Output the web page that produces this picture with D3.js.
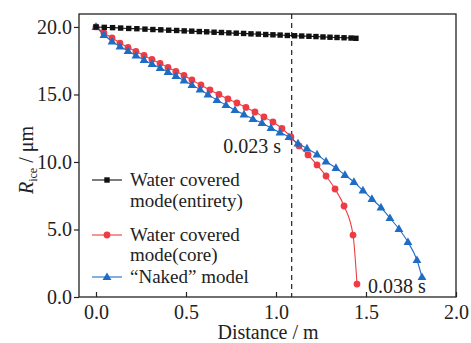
<!DOCTYPE html>
<html>
<head>
<meta charset="utf-8">
<script src="https://cdn.jsdelivr.net/npm/d3@7"></script>
<style>
html,body{margin:0;padding:0;background:#fff;}
svg{display:block;}
text{font-family:"Liberation Serif","DejaVu Serif",serif;fill:#222;}
</style>
</head>
<body>
<svg id="chart" width="471" height="343"></svg>
<script>
// ---- data ----
const xTicks = [0.0, 0.5, 1.0, 1.5, 2.0];
const yTicks = [0.0, 5.0, 10.0, 15.0, 20.0];

const distEntirety = [0, 0.046, 0.092, 0.137, 0.182, 0.227, 0.272, 0.316, 0.36, 0.404, 0.448, 0.49, 0.532, 0.574, 0.615, 0.656, 0.697, 0.738, 0.779, 0.82, 0.861, 0.902, 0.943, 0.983, 1.023, 1.063, 1.103, 1.143, 1.183, 1.222, 1.261, 1.3, 1.339, 1.378, 1.417, 1.444];
const rEntirety = [20.00, 19.97, 19.95, 19.92, 19.89, 19.87, 19.84, 19.81, 19.79, 19.76, 19.74, 19.71, 19.69, 19.66, 19.64, 19.61, 19.59, 19.56, 19.54, 19.52, 19.49, 19.47, 19.44, 19.42, 19.40, 19.37, 19.35, 19.33, 19.31, 19.29, 19.26, 19.24, 19.22, 19.20, 19.18, 19.16];

const distCore = [0.000, 0.044, 0.089, 0.133, 0.178, 0.222, 0.267, 0.311, 0.356, 0.400, 0.444, 0.489, 0.533, 0.583, 0.633, 0.683, 0.733, 0.783, 0.833, 0.883, 0.933, 0.983, 1.033, 1.083, 1.128, 1.178, 1.228, 1.278, 1.328, 1.378, 1.428, 1.450];
const rCore = [20.00, 19.56, 19.19, 18.81, 18.48, 18.19, 17.89, 17.59, 17.30, 17.00, 16.70, 16.41, 16.07, 15.70, 15.33, 15.00, 14.67, 14.37, 14.04, 13.70, 13.33, 12.96, 12.48, 11.85, 11.19, 10.52, 9.78, 8.96, 8.00, 6.74, 4.59, 0.96];

const distNaked = [0, 0.044, 0.089, 0.133, 0.178, 0.222, 0.267, 0.311, 0.356, 0.400, 0.444, 0.489, 0.533, 0.578, 0.622, 0.672, 0.722, 0.772, 0.822, 0.872, 0.922, 0.972, 1.022, 1.072, 1.122, 1.172, 1.228, 1.278, 1.333, 1.383, 1.433, 1.483, 1.533, 1.583, 1.633, 1.683, 1.733, 1.783, 1.811];
const rNaked = [20.00, 19.41, 18.93, 18.56, 18.22, 17.89, 17.56, 17.26, 16.96, 16.67, 16.37, 16.04, 15.70, 15.37, 15.00, 14.59, 14.22, 13.85, 13.52, 13.19, 12.89, 12.52, 12.19, 11.85, 11.37, 11.00, 10.56, 10.04, 9.56, 9.04, 8.52, 7.89, 7.26, 6.63, 5.85, 5.04, 4.07, 2.74, 1.48];

const markerLine = 1.087;
const annotations = [{x: 1.087, y: 11.85, text: "0.023 s"}, {x: 1.5, y: 0, text: "0.038 s"}];
const legendLabels = [["Water covered", "mode(entirety)"], ["Water covered", "mode(core)"], ["\u201CNaked\u201D model"]];
const colors = {entirety: "#111111", core: "#ef3b43", naked: "#1f6cc4"};

// ---- layout ----
const svg = d3.select("#chart");
const L = 79, T = 14, R = 456, B = 297;
const x = d3.scaleLinear().domain([-0.0944, 2.0]).range([L, R]);
const y = d3.scaleLinear().domain([0, 20.96]).range([B, T]);
const FS = 20, LFS = 19;

// dashed vertical line
svg.append("line")
  .attr("x1", x(markerLine)).attr("x2", x(markerLine))
  .attr("y1", T).attr("y2", B)
  .attr("stroke", "#333").attr("stroke-width", 1.3)
  .attr("stroke-dasharray", "5,4");

// axes
const xAxis = d3.axisBottom(x).tickValues(xTicks).tickFormat(d3.format(".1f")).tickSizeInner(-5).tickSizeOuter(0).tickPadding(8);
const gx = svg.append("g").attr("transform", `translate(0,${B})`).call(xAxis);
gx.select(".domain").remove();
gx.selectAll("line").attr("stroke", "#222").attr("stroke-width", 1.2);
gx.selectAll("text").attr("font-size", FS).attr("font-family", "Liberation Serif").attr("fill", "#222").attr("dy", "0.71em");

const yAxis = d3.axisLeft(y).tickValues(yTicks).tickFormat(d3.format(".1f")).tickSizeInner(5).tickSizeOuter(0).tickPadding(2);
const gy = svg.append("g").attr("transform", `translate(${L},0)`).call(yAxis);
gy.select(".domain").remove();
gy.selectAll("line").attr("stroke", "#222").attr("stroke-width", 1.2);
gy.selectAll("text").attr("font-size", FS).attr("font-family", "Liberation Serif").attr("fill", "#222");

// frame
svg.append("rect").attr("x", L).attr("y", T).attr("width", R - L).attr("height", B - T)
  .attr("fill", "none").attr("stroke", "#222").attr("stroke-width", 1.3);

// series
const series = [
  {xs: distEntirety, ys: rEntirety, color: colors.entirety, shape: "square"},
  {xs: distCore, ys: rCore, color: colors.core, shape: "circle"},
  {xs: distNaked, ys: rNaked, color: colors.naked, shape: "triangle"}
];
const line = d3.line().x(d => x(d[0])).y(d => y(d[1])).curve(d3.curveMonotoneX);
function drawMarker(g, shape, color, cx, cy) {
  if (shape === "square") {
    g.append("rect").attr("x", cx - 2.7).attr("y", cy - 2.7).attr("width", 5.4).attr("height", 5.4).attr("fill", color);
  } else if (shape === "circle") {
    g.append("circle").attr("cx", cx).attr("cy", cy).attr("r", 3.4).attr("fill", color);
  } else {
    g.append("path").attr("d", d3.symbol().type(d3.symbolTriangle).size(34)()).attr("transform", `translate(${cx},${cy+0.5})`).attr("fill", color);
  }
}
// draw in order: core, naked, entirety on top
[series[1], series[2], series[0]].forEach(s => {
  const pts = s.xs.map((v, i) => [v, s.ys[i]]);
  svg.append("path").datum(pts).attr("d", line).attr("fill", "none").attr("stroke", s.color).attr("stroke-width", 1.1);
  const g = svg.append("g");
  pts.forEach(p => drawMarker(g, s.shape, s.color, x(p[0]), y(p[1])));
});

// annotations
svg.append("text").attr("x", 281).attr("y", 153).attr("text-anchor", "end").attr("font-size", FS).text(annotations[0].text);
svg.append("text").attr("x", 368).attr("y", 293).attr("text-anchor", "start").attr("font-size", FS).text(annotations[1].text);

// legend
const legY = [180, 235, 277];
const legGap = [21, 20, 0];
series.forEach((s, i) => {
  const g = svg.append("g");
  g.append("line").attr("x1", 92).attr("x2", 122).attr("y1", legY[i]).attr("y2", legY[i]).attr("stroke", s.color).attr("stroke-width", 1.1);
  drawMarker(g, s.shape, s.color, 107, legY[i]);
  const t = g.append("text").attr("x", 130).attr("y", legY[i] + 6).attr("font-size", LFS);
  legendLabels[i].forEach((ln, j) => {
    t.append("tspan").attr("x", 130).attr("dy", j === 0 ? 0 : legGap[i]).text(ln);
  });
});

// axis titles
svg.append("text").attr("x", 268).attr("y", 339).attr("text-anchor", "middle").attr("font-size", FS).text("Distance / m");
const yt = svg.append("text").attr("transform", "translate(33,160) rotate(-90)").attr("text-anchor", "middle").attr("font-size", FS);
yt.append("tspan").attr("font-style", "italic").text("R");
yt.append("tspan").attr("font-size", 12).attr("dy", 4).text("ice");
yt.append("tspan").attr("dy", -4).text(" / \u03BCm");
</script>
</body>
</html>
